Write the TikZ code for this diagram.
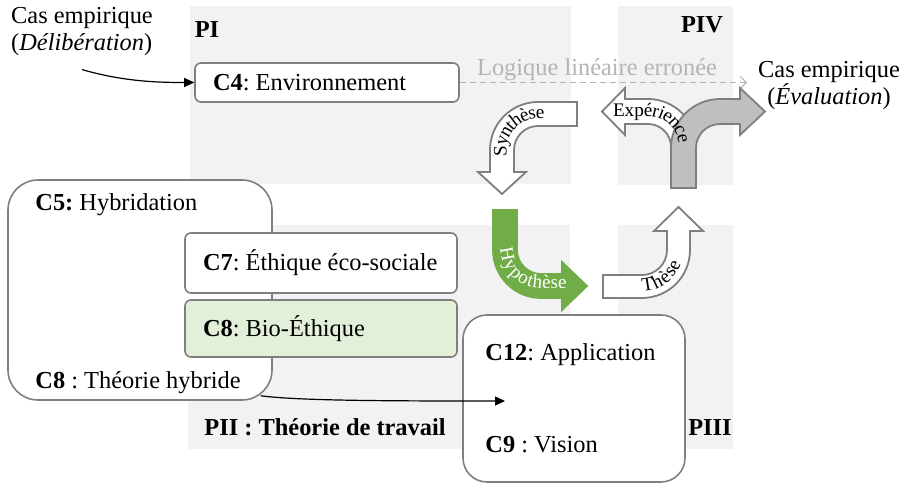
\documentclass[tikz,border=0pt]{standalone}
\usepackage{fontspec}
\setmainfont{Liberation Serif}
\usetikzlibrary{arrows.meta, positioning, decorations.text}
\definecolor{panneau}{HTML}{F2F2F2}
\definecolor{bord}{HTML}{7F7F7F}
\definecolor{vertclair}{HTML}{E2EFD9}
\definecolor{vertfonce}{HTML}{70AD47}
\definecolor{grisfleche}{HTML}{BFBFBF}
\definecolor{grislogique}{HTML}{B4B4B4}
\newcommand{\flechefont}{\fontsize{9.6}{10}\selectfont}
\frenchspacing

\begin{document}
\begin{tikzpicture}[
        x=0.5pt, y=-0.5pt,
        font=\fontsize{12.2}{13.5}\selectfont,
        zone/.style = {fill=panneau, draw=none},
        etiq/.style = {inner sep=0pt},
        boite/.style = {rectangle, rounded corners=3pt, draw=bord, line width=0.8pt, fill=white, align=flush left, inner xsep=5pt, inner ysep=0pt},
        cadre/.style = {rectangle, rounded corners=15pt, draw=bord, line width=0.8pt, fill=white, inner sep=0pt},
        bloc/.style = {draw=bord, line width=0.9pt, line join=miter},
        pil/.style = {black, line width=0.6pt, -{Triangle[length=5pt,width=4.5pt]}},
        lettre/.style = {decorate, decoration={text along path, raise=-2.3pt}}
        ]
        \useasboundingbox (0,0) rectangle (904,485);
        \fill[zone] (190,6) rectangle (571,184);
        \fill[zone] (618,6) rectangle (733,185);
        \fill[zone] (188,225) rectangle (570,449);
        \fill[zone] (618,225) rectangle (733,449);

        \node[etiq] (pI) at (207,30) {\textbf{PI}};
        \node[etiq] (pIV) at (702,25) {\textbf{PIV}};
        \node[etiq] (pIII) at (710,428) {\textbf{PIII}};
        \node[etiq] (pII) at (325,427) {\textbf{PII : Théorie de travail}};
        \node[etiq, align=left] (delib) at (82,32) {Cas empirique\\(\textit{Délibération})};
        \node[etiq, align=center] (eval) at (829,86) {Cas empirique\\(\textit{Évaluation})};

        \node[boite, text width=122pt, minimum height=19.5pt] (c4) at (327,82.5) {\hspace*{4pt}\textbf{C4}: Environnement};
        \node[cadre, minimum width=132pt, minimum height=110pt] (c5) at (140,290) {};
        \node[etiq, anchor=west] (c5titre) at (35,205) {\textbf{C5:} Hybridation};
        \node[etiq, anchor=west] (c5bas) at (35,383) {\textbf{C8} : Théorie hybride};
        \node[boite, text width=126pt, minimum height=30pt] (c7) at (321,263) {\hspace*{4pt}\textbf{C7}: Éthique éco-sociale};
        \node[boite, fill=vertclair, text width=126pt, minimum height=28.5pt] (c8) at (321,328.5) {\hspace*{4pt}\textbf{C8}: Bio-Éthique};
        \node[cadre, rounded corners=12pt, minimum width=111pt, minimum height=83.5pt] (c12) at (574,398.5) {};
        \node[etiq, anchor=west] (c12app) at (485,355) {\textbf{C12}: Application};
        \node[etiq, anchor=west] (c9) at (485,445) {\textbf{C9} : Vision};

        \coordinate (finlog) at (747,82.5);
        \coordinate (c12in) at (505,401);
        \draw[grislogique, line width=0.5pt, dash pattern=on 3pt off 2pt, -{Straight Barb[length=3pt,width=6pt]}] (c4.east) -- (finlog);
        \node[etiq, text=grislogique] (logique) at (597,70) {Logique linéaire erronée};
        \draw[pil] ([yshift=-6.5pt]delib.south) .. controls (125,82) and (160,82.5) .. (c4.west);
        \draw[pil] ([shift={(-6pt,2.5pt)}]c5.south east) .. controls (300,401) and (400,401) .. (c12in);

        \draw[bloc, fill=white] (577,102) -- (538,102) arc[start angle=90, end angle=180, radius=24pt]
          -- (490,172) -- (478,172) -- (502,194) -- (526,172) -- (514,172) -- (514,150)
          arc[start angle=180, end angle=90, radius=12pt] -- (577,126) -- cycle;
        \draw[bloc, draw=vertfonce, fill=vertfonce] (493,210) -- (493,250) arc[start angle=180, end angle=270, radius=24pt]
          -- (562,298) -- (562,310) -- (587,286) -- (562,262) -- (562,274) -- (541,274)
          arc[start angle=270, end angle=180, radius=12pt] -- (517,210) -- cycle;
        \draw[bloc, fill=white] (603,298) -- (642,298) arc[start angle=270, end angle=360, radius=24pt]
          -- (690,231) -- (703,231) -- (678.5,207) -- (654,231) -- (667,231) -- (667,250)
          arc[start angle=0, end angle=-90, radius=12.5pt] -- (603,275) -- cycle;
        \draw[bloc, fill=white] (696,188) -- (696,147) arc[start angle=0, end angle=90, radius=24pt]
          -- (625,99) -- (625,88) -- (602,111.5) -- (625,135) -- (625,124) -- (648,124)
          arc[start angle=90, end angle=0, radius=11.5pt] -- (671,188) -- cycle;
        \draw[bloc, fill=grisfleche] (671,188) -- (671,148) arc[start angle=180, end angle=90, radius=24.5pt]
          -- (740,99) -- (740,88) -- (765,111.5) -- (740,135) -- (740,124) -- (720,124)
          arc[start angle=90, end angle=180, radius=12pt] -- (696,188) -- cycle;

        \path[lettre, decoration={text align=center, text={|\flechefont|Synth{è}se}}] (502,186) -- (502,150) arc[start angle=180, end angle=90, radius=18pt] -- (574,114);
        \path[lettre, decoration={text align=left, text={|\flechefont\color{white}|Hypoth{è}se}}] (505,248) arc[start angle=180, end angle=270, radius=18pt] -- (590,284);
        \path[lettre, decoration={text align=left, text={|\flechefont|Th{è}se}}] (642,286.5) arc[start angle=270, end angle=360, radius=18.25pt] -- (678.5,214);
        \path[lettre, decoration={text align=left, text={|\flechefont|Exp{é}rience}}] (613,111.5) -- (648,111.5) arc[start angle=90, end angle=0, radius=17.75pt] -- (683.5,190);
      \end{tikzpicture}
\end{document}
